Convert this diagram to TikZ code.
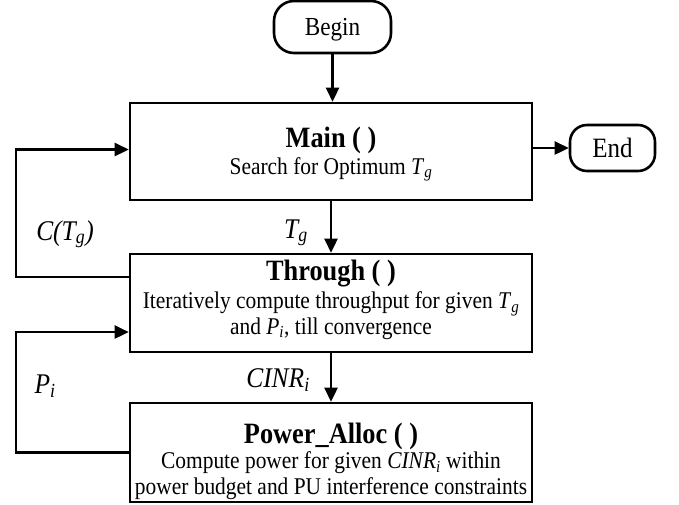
\documentclass[tikz,border=0pt]{standalone}
\usepackage{fontspec}
\setmainfont[FakeStretch=0.893]{Liberation Serif}
\usetikzlibrary{arrows.meta}
\newcommand\ttl[1]{{\fontsize{29.5}{30}\selectfont\bfseries #1}}
\newcommand\Tg{\textit{T}\textsubscript{\textit{g}}}
\newcommand\Pis{\textit{P}\textsubscript{\textit{i}}}
\newcommand\CINRi{\textit{CINR}\textsubscript{\textit{i}}}
\tikzset{
  procbox/.style={draw, line width=2.6pt, minimum width=402pt, minimum height=97pt, inner sep=0pt},
  boxtext/.style={align=center, inner sep=0pt, font=\fontsize{24}{25.5}\selectfont},
  termbox/.style={draw, line width=2.6pt, rounded corners=20pt, inner sep=0pt},
  arr/.style={line width=2.6pt, -{Triangle[length=14pt,width=13pt]}},
  lab/.style={font=\fontsize{28.5}{28.5}\selectfont\itshape, anchor=base, inner sep=0pt}
}
\begin{document}
\begin{tikzpicture}[x=1pt,y=-1pt]
\useasboundingbox (0,0) rectangle (679,504);
\node[termbox, minimum width=117pt, minimum height=52pt, font=\fontsize{26}{26}\selectfont,
  text height=17pt, text depth=0pt] (begin) at (332.5,27) {Begin};
\node[termbox, minimum width=85pt, minimum height=46pt, rounded corners=17pt,
  font=\fontsize{28}{28}\selectfont, text height=18.5pt, text depth=0pt] (end) at (612.5,148) {End};

\node[procbox] (main) at (331,151.5) {};
\node[boxtext] (maintxt) at ([yshift=-2.5pt]main.center) {\ttl{Main ( )}\\[1.5pt] Search for Optimum \Tg};
\node[procbox, minimum height=98pt] (through) at (331,303) {};
\node[boxtext] (throughtxt) at ([yshift=3.5pt]through.center) {\ttl{Through ( )}\\[3pt] Iteratively compute throughput for given \Tg\\ and \Pis, till convergence};
\node[procbox, minimum height=99pt] (power) at (331,452.5) {};
\node[boxtext] (powertxt) at ([yshift=-8.5pt]power.center) {\ttl{Power\_Alloc ( )}\\[0pt] Compute power for given \CINRi{} within\\ power budget and PU interference constraints};
\coordinate (lx) at (16,0);

\draw[arr] (begin.south) -- (begin.south |- main.north);
\draw[arr] (end.west -| main.east) -- (end.west);
\draw[arr] (main.south) -- (through.north);
\draw[arr] (through.south) -- (power.north);
\draw[arr] ([yshift=26pt]through.west) -- ([yshift=26pt]through.west -| lx) |- ([yshift=2pt]main.west);
\draw[arr] (power.west) -- (power.west -| lx) |- ([yshift=-29pt]through.west);

\node[lab] (lc) at (65,240) {C(\Tg)};
\node[lab] (ltg) at (296,238) {\Tg};
\node[lab] (lcinr) at (278,387) {\CINRi};
\node[lab] (lpi) at (45,393) {\Pis};
\end{tikzpicture}
\end{document}
